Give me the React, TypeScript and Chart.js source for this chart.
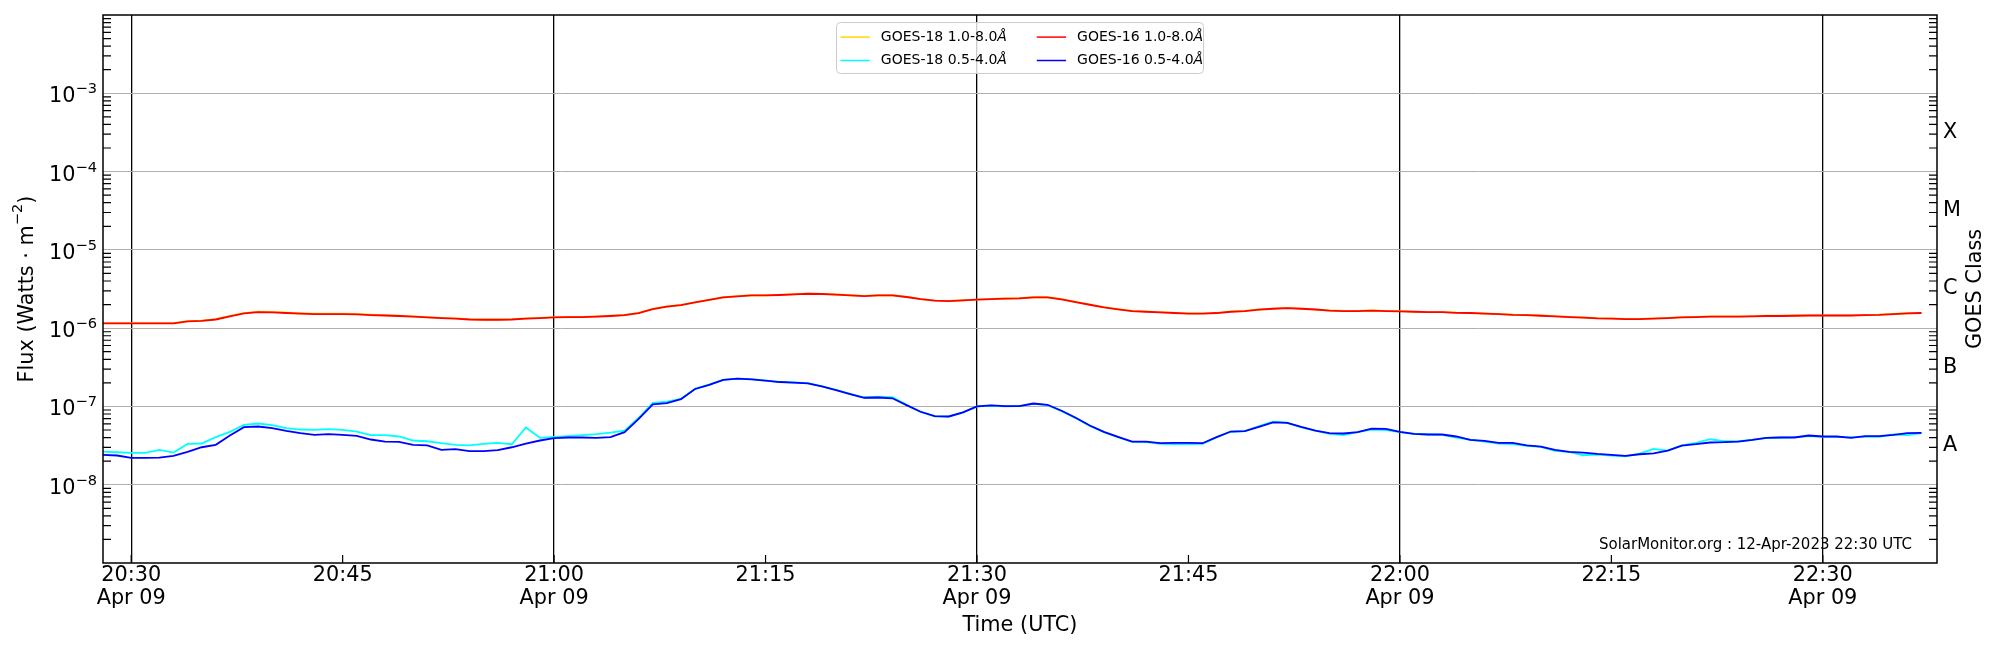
import { useEffect, useRef } from "react";
import Chart from "chart.js/auto";
import type { ChartConfiguration, Plugin } from "chart.js";

const FONT_FAMILY = "'DejaVu Sans', sans-serif";

// one-minute samples
const times = [
  "20:28", "20:29",
  "20:30", "20:31", "20:32", "20:33", "20:34", "20:35", "20:36", "20:37", "20:38", "20:39",
  "20:40", "20:41", "20:42", "20:43", "20:44", "20:45", "20:46", "20:47", "20:48", "20:49",
  "20:50", "20:51", "20:52", "20:53", "20:54", "20:55", "20:56", "20:57", "20:58", "20:59",
  "21:00", "21:01", "21:02", "21:03", "21:04", "21:05", "21:06", "21:07", "21:08", "21:09",
  "21:10", "21:11", "21:12", "21:13", "21:14", "21:15", "21:16", "21:17", "21:18", "21:19",
  "21:20", "21:21", "21:22", "21:23", "21:24", "21:25", "21:26", "21:27", "21:28", "21:29",
  "21:30", "21:31", "21:32", "21:33", "21:34", "21:35", "21:36", "21:37", "21:38", "21:39",
  "21:40", "21:41", "21:42", "21:43", "21:44", "21:45", "21:46", "21:47", "21:48", "21:49",
  "21:50", "21:51", "21:52", "21:53", "21:54", "21:55", "21:56", "21:57", "21:58", "21:59",
  "22:00", "22:01", "22:02", "22:03", "22:04", "22:05", "22:06", "22:07", "22:08", "22:09",
  "22:10", "22:11", "22:12", "22:13", "22:14", "22:15", "22:16", "22:17", "22:18", "22:19",
  "22:20", "22:21", "22:22", "22:23", "22:24", "22:25", "22:26", "22:27", "22:28", "22:29",
  "22:30", "22:31", "22:32", "22:33", "22:34", "22:35", "22:36", "22:37",
];

const goes18Long = [
  1.16e-6, 1.16e-6,
  1.16e-6, 1.16e-6, 1.16e-6, 1.16e-6, 1.23e-6, 1.25e-6, 1.30e-6, 1.43e-6, 1.56e-6, 1.62e-6,
  1.61e-6, 1.58e-6, 1.55e-6, 1.53e-6, 1.53e-6, 1.53e-6, 1.52e-6, 1.49e-6, 1.47e-6, 1.44e-6,
  1.41e-6, 1.38e-6, 1.35e-6, 1.33e-6, 1.30e-6, 1.29e-6, 1.29e-6, 1.30e-6, 1.33e-6, 1.35e-6,
  1.38e-6, 1.39e-6, 1.39e-6, 1.41e-6, 1.44e-6, 1.48e-6, 1.57e-6, 1.76e-6, 1.89e-6, 1.98e-6,
  2.14e-6, 2.30e-6, 2.48e-6, 2.56e-6, 2.63e-6, 2.63e-6, 2.66e-6, 2.71e-6, 2.76e-6, 2.74e-6,
  2.69e-6, 2.63e-6, 2.58e-6, 2.63e-6, 2.63e-6, 2.51e-6, 2.36e-6, 2.25e-6, 2.23e-6, 2.27e-6,
  2.32e-6, 2.36e-6, 2.39e-6, 2.41e-6, 2.48e-6, 2.48e-6, 2.34e-6, 2.16e-6, 2.00e-6, 1.85e-6,
  1.75e-6, 1.66e-6, 1.63e-6, 1.60e-6, 1.57e-6, 1.54e-6, 1.54e-6, 1.57e-6, 1.63e-6, 1.66e-6,
  1.73e-6, 1.78e-6, 1.81e-6, 1.78e-6, 1.74e-6, 1.68e-6, 1.66e-6, 1.66e-6, 1.68e-6, 1.66e-6,
  1.65e-6, 1.63e-6, 1.61e-6, 1.61e-6, 1.58e-6, 1.57e-6, 1.54e-6, 1.52e-6, 1.49e-6, 1.48e-6,
  1.45e-6, 1.42e-6, 1.39e-6, 1.37e-6, 1.34e-6, 1.33e-6, 1.31e-6, 1.31e-6, 1.33e-6, 1.35e-6,
  1.38e-6, 1.39e-6, 1.41e-6, 1.41e-6, 1.41e-6, 1.42e-6, 1.44e-6, 1.44e-6, 1.45e-6, 1.46e-6,
  1.46e-6, 1.46e-6, 1.46e-6, 1.48e-6, 1.49e-6, 1.52e-6, 1.55e-6, 1.57e-6,
];

const goes18Short = [
  2.65e-8, 2.60e-8,
  2.55e-8, 2.55e-8, 2.78e-8, 2.57e-8, 3.32e-8, 3.36e-8, 4.05e-8, 4.73e-8, 5.82e-8, 6.05e-8,
  5.76e-8, 5.27e-8, 5.07e-8, 5.02e-8, 5.12e-8, 5.02e-8, 4.78e-8, 4.29e-8, 4.29e-8, 4.13e-8,
  3.67e-8, 3.59e-8, 3.39e-8, 3.23e-8, 3.19e-8, 3.32e-8, 3.42e-8, 3.29e-8, 5.38e-8, 3.97e-8,
  4.09e-8, 4.17e-8, 4.29e-8, 4.42e-8, 4.64e-8, 4.92e-8, 7.16e-8, 1.11e-7, 1.15e-7, 1.25e-7,
  1.68e-7, 1.90e-7, 2.19e-7, 2.27e-7, 2.23e-7, 2.14e-7, 2.06e-7, 2.02e-7, 1.98e-7, 1.81e-7,
  1.63e-7, 1.45e-7, 1.30e-7, 1.33e-7, 1.31e-7, 1.05e-7, 8.50e-8, 7.45e-8, 7.40e-8, 8.35e-8,
  1.00e-7, 1.02e-7, 1.00e-7, 1.01e-7, 1.08e-7, 1.04e-7, 8.70e-8, 7.10e-8, 5.65e-8, 4.70e-8,
  4.05e-8, 3.52e-8, 3.50e-8, 3.33e-8, 3.30e-8, 3.30e-8, 3.33e-8, 4.05e-8, 4.75e-8, 4.85e-8,
  5.60e-8, 6.40e-8, 6.20e-8, 5.40e-8, 4.92e-8, 4.46e-8, 4.29e-8, 4.69e-8, 5.07e-8, 4.97e-8,
  4.69e-8, 4.46e-8, 4.38e-8, 4.33e-8, 4.01e-8, 3.74e-8, 3.56e-8, 3.36e-8, 3.29e-8, 3.13e-8,
  3.04e-8, 2.70e-8, 2.62e-8, 2.38e-8, 2.42e-8, 2.35e-8, 2.30e-8, 2.50e-8, 2.87e-8, 2.73e-8,
  3.19e-8, 3.42e-8, 3.81e-8, 3.59e-8, 3.59e-8, 3.74e-8, 3.97e-8, 4.01e-8, 4.05e-8, 4.17e-8,
  4.09e-8, 4.05e-8, 4.05e-8, 4.09e-8, 4.09e-8, 4.38e-8, 4.29e-8, 4.55e-8,
];

const goes16Long = [
  1.15e-6, 1.15e-6,
  1.15e-6, 1.15e-6, 1.15e-6, 1.15e-6, 1.22e-6, 1.24e-6, 1.29e-6, 1.41e-6, 1.54e-6, 1.60e-6,
  1.59e-6, 1.56e-6, 1.53e-6, 1.51e-6, 1.51e-6, 1.51e-6, 1.50e-6, 1.47e-6, 1.45e-6, 1.43e-6,
  1.40e-6, 1.37e-6, 1.34e-6, 1.32e-6, 1.29e-6, 1.28e-6, 1.28e-6, 1.29e-6, 1.32e-6, 1.34e-6,
  1.37e-6, 1.38e-6, 1.38e-6, 1.40e-6, 1.43e-6, 1.47e-6, 1.56e-6, 1.75e-6, 1.88e-6, 1.97e-6,
  2.13e-6, 2.29e-6, 2.47e-6, 2.55e-6, 2.62e-6, 2.62e-6, 2.65e-6, 2.70e-6, 2.75e-6, 2.73e-6,
  2.68e-6, 2.62e-6, 2.57e-6, 2.62e-6, 2.62e-6, 2.50e-6, 2.35e-6, 2.24e-6, 2.22e-6, 2.26e-6,
  2.31e-6, 2.35e-6, 2.38e-6, 2.40e-6, 2.47e-6, 2.47e-6, 2.33e-6, 2.15e-6, 1.99e-6, 1.84e-6,
  1.74e-6, 1.65e-6, 1.62e-6, 1.59e-6, 1.56e-6, 1.53e-6, 1.53e-6, 1.56e-6, 1.62e-6, 1.65e-6,
  1.72e-6, 1.77e-6, 1.80e-6, 1.77e-6, 1.73e-6, 1.67e-6, 1.65e-6, 1.65e-6, 1.67e-6, 1.65e-6,
  1.64e-6, 1.62e-6, 1.60e-6, 1.60e-6, 1.57e-6, 1.56e-6, 1.53e-6, 1.51e-6, 1.48e-6, 1.47e-6,
  1.44e-6, 1.41e-6, 1.38e-6, 1.36e-6, 1.33e-6, 1.32e-6, 1.30e-6, 1.30e-6, 1.32e-6, 1.34e-6,
  1.37e-6, 1.38e-6, 1.40e-6, 1.40e-6, 1.40e-6, 1.41e-6, 1.43e-6, 1.43e-6, 1.44e-6, 1.45e-6,
  1.45e-6, 1.45e-6, 1.45e-6, 1.47e-6, 1.48e-6, 1.51e-6, 1.54e-6, 1.56e-6,
];

const goes16Short = [
  2.40e-8, 2.36e-8,
  2.20e-8, 2.20e-8, 2.22e-8, 2.33e-8, 2.62e-8, 3.01e-8, 3.23e-8, 4.25e-8, 5.43e-8, 5.54e-8,
  5.27e-8, 4.87e-8, 4.55e-8, 4.33e-8, 4.42e-8, 4.33e-8, 4.21e-8, 3.78e-8, 3.56e-8, 3.52e-8,
  3.23e-8, 3.19e-8, 2.78e-8, 2.84e-8, 2.68e-8, 2.68e-8, 2.76e-8, 3.01e-8, 3.36e-8, 3.67e-8,
  3.93e-8, 4.01e-8, 4.01e-8, 3.97e-8, 4.05e-8, 4.69e-8, 6.95e-8, 1.06e-7, 1.10e-7, 1.24e-7,
  1.67e-7, 1.89e-7, 2.18e-7, 2.26e-7, 2.22e-7, 2.13e-7, 2.05e-7, 2.01e-7, 1.97e-7, 1.80e-7,
  1.62e-7, 1.44e-7, 1.29e-7, 1.30e-7, 1.27e-7, 1.04e-7, 8.55e-8, 7.52e-8, 7.44e-8, 8.38e-8,
  1.00e-7, 1.03e-7, 1.01e-7, 1.01e-7, 1.09e-7, 1.05e-7, 8.80e-8, 7.16e-8, 5.71e-8, 4.73e-8,
  4.09e-8, 3.56e-8, 3.56e-8, 3.39e-8, 3.42e-8, 3.42e-8, 3.39e-8, 4.05e-8, 4.78e-8, 4.83e-8,
  5.48e-8, 6.24e-8, 6.17e-8, 5.48e-8, 4.92e-8, 4.55e-8, 4.51e-8, 4.69e-8, 5.22e-8, 5.17e-8,
  4.73e-8, 4.46e-8, 4.38e-8, 4.38e-8, 4.13e-8, 3.74e-8, 3.63e-8, 3.42e-8, 3.42e-8, 3.19e-8,
  3.07e-8, 2.78e-8, 2.62e-8, 2.57e-8, 2.47e-8, 2.40e-8, 2.33e-8, 2.45e-8, 2.52e-8, 2.73e-8,
  3.16e-8, 3.29e-8, 3.46e-8, 3.49e-8, 3.56e-8, 3.74e-8, 3.97e-8, 4.01e-8, 4.01e-8, 4.25e-8,
  4.13e-8, 4.13e-8, 3.97e-8, 4.17e-8, 4.17e-8, 4.33e-8, 4.55e-8, 4.60e-8,
];

const seriesLabels = [
  "GOES-18 1.0-8.0Å",
  "GOES-18 0.5-4.0Å",
  "GOES-16 1.0-8.0Å",
  "GOES-16 0.5-4.0Å",
];
const seriesColors = ["#ffd700", "#00ffff", "#ff0000", "#0000ff"];

const xStart = "20:28";
const xEnd = "22:38";
const xTickTimes = ["20:30", "20:45", "21:00", "21:15", "21:30", "21:45", "22:00", "22:15", "22:30"];
const dateLabel = "Apr 09";

const fluxTicks = [1e-8, 1e-7, 1e-6, 1e-5, 1e-4, 1e-3];
const fluxTickBase = "10";
const fluxTickExponents = ["−8", "−7", "−6", "−5", "−4", "−3"];
const classTicks = [3.16e-8, 3.16e-7, 3.16e-6, 3.16e-5, 3.16e-4];
const classLabels = ["A", "B", "C", "M", "X"];

// axis titles: [text, superscript, text]
const fluxTitle = ["Flux (Watts · m", "−2", ")"];
const classTitle = "GOES Class";
const stamp = "SolarMonitor.org : 12-Apr-2023 22:30 UTC";

function toMinutes(t: string) {
  const [h, m] = t.split(":").map(Number);
  return h * 60 + m;
}

function fmtTime(v: number) {
  const h = Math.floor(v / 60);
  const m = Math.round(v - h * 60);
  return `${h}:${String(m).padStart(2, "0")}`;
}

const BIG = 20.8;
const SUP = 14.6;
const font = { family: FONT_FAMILY, size: BIG };

const decor: Plugin<"line"> = {
  id: "goesDecor",
  afterDraw(chart) {
    const { ctx, chartArea: a } = chart;
    const x = chart.scales.x;
    const y = chart.scales.y;
    ctx.save();

    // inward minor ticks (log) on both y sides, inward x ticks
    ctx.strokeStyle = "#000";
    ctx.lineWidth = 1.2;
    ctx.beginPath();
    for (let e = -9; e < -2; e++) {
      for (let k = 2; k < 10; k++) {
        const py = y.getPixelForValue(k * Math.pow(10, e));
        ctx.moveTo(a.left, py);
        ctx.lineTo(a.left + 8, py);
        ctx.moveTo(a.right, py);
        ctx.lineTo(a.right - 8, py);
      }
    }
    x.ticks.forEach((t) => {
      const px = x.getPixelForValue(t.value);
      ctx.moveTo(px, a.bottom);
      ctx.lineTo(px, a.bottom - 8);
    });
    ctx.stroke();

    ctx.lineWidth = 1.5;
    ctx.strokeRect(a.left, a.top, a.right - a.left, a.bottom - a.top);

    // flux tick labels: 10 with raised exponent
    ctx.fillStyle = "#000";
    ctx.textBaseline = "alphabetic";
    ctx.textAlign = "right";
    y.ticks.forEach((t, i) => {
      const py = y.getPixelForValue(t.value);
      const exp = fluxTickExponents[i];
      ctx.font = `${SUP}px ${FONT_FAMILY}`;
      const ew = ctx.measureText(exp).width;
      ctx.fillText(exp, a.left - 6, py);
      ctx.font = `${BIG}px ${FONT_FAMILY}`;
      ctx.fillText(fluxTickBase, a.left - 6 - ew, py + 9);
    });

    // GOES class letters on the right
    ctx.textAlign = "left";
    ctx.textBaseline = "middle";
    ctx.font = `${BIG}px ${FONT_FAMILY}`;
    classTicks.forEach((v, i) => {
      ctx.fillText(classLabels[i], a.right + 6, y.getPixelForValue(v));
    });

    // left title, reading upwards
    ctx.save();
    ctx.translate(33.3, (a.top + a.bottom) / 2);
    ctx.rotate(-Math.PI / 2);
    ctx.textAlign = "left";
    ctx.textBaseline = "alphabetic";
    const [t1, t2, t3] = fluxTitle;
    ctx.font = `${BIG}px ${FONT_FAMILY}`;
    const w1 = ctx.measureText(t1).width;
    const w3 = ctx.measureText(t3).width;
    ctx.font = `${SUP}px ${FONT_FAMILY}`;
    const w2 = ctx.measureText(t2).width;
    let tx = -(w1 + w2 + w3) / 2;
    ctx.font = `${BIG}px ${FONT_FAMILY}`;
    ctx.fillText(t1, tx, 0);
    tx += w1;
    ctx.font = `${SUP}px ${FONT_FAMILY}`;
    ctx.fillText(t2, tx, -11.5);
    tx += w2;
    ctx.font = `${BIG}px ${FONT_FAMILY}`;
    ctx.fillText(t3, tx, 0);
    ctx.restore();

    // legend, upper centre, two columns
    const lw = 367;
    const lh = 51;
    const lx = (a.left + a.right) / 2 - lw / 2;
    const ly = a.top + 7.5;
    ctx.beginPath();
    ctx.roundRect(lx, ly, lw, lh, 4);
    ctx.fillStyle = "rgba(255,255,255,0.8)";
    ctx.fill();
    ctx.strokeStyle = "#cccccc";
    ctx.lineWidth = 1;
    ctx.stroke();
    ctx.textBaseline = "middle";
    ctx.textAlign = "left";
    chart.data.datasets.forEach((ds, i) => {
      const col = Math.floor(i / 2);
      const row = i % 2;
      const bx = lx + 4 + col * 196.3;
      const by = ly + 14.6 + row * 23.4;
      ctx.strokeStyle = ds.borderColor as string;
      ctx.lineWidth = 1.5;
      ctx.beginPath();
      ctx.moveTo(bx, by);
      ctx.lineTo(bx + 29.3, by);
      ctx.stroke();
      const label = String(ds.label);
      const base = label.slice(0, -1);
      ctx.fillStyle = "#000";
      ctx.font = `14px ${FONT_FAMILY}`;
      ctx.fillText(base, bx + 40.3, by);
      const w = ctx.measureText(base).width;
      ctx.font = `italic 14px ${FONT_FAMILY}`;
      ctx.fillText(label.slice(-1), bx + 40.3 + w, by);
    });

    // stamp, lower right
    ctx.font = `15px ${FONT_FAMILY}`;
    ctx.textAlign = "right";
    ctx.textBaseline = "alphabetic";
    ctx.fillText(stamp, a.right - 25, a.bottom - 14);

    // right-hand axis title, reading upwards
    ctx.translate(a.right + 39, (a.top + a.bottom) / 2);
    ctx.rotate(-Math.PI / 2);
    ctx.font = `${BIG}px ${FONT_FAMILY}`;
    ctx.textAlign = "center";
    ctx.textBaseline = "middle";
    ctx.fillText(classTitle, 0, 0);
    ctx.restore();
  },
};

function makeSeries(values: number[]) {
  return times.map((t, i) => ({ x: toMinutes(t), y: values[i] }));
}

export default function App() {
  const canvasRef = useRef<HTMLCanvasElement | null>(null);

  useEffect(() => {
    if (!canvasRef.current) return;
    const values = [goes18Long, goes18Short, goes16Long, goes16Short];
    const order = [3, 2, 1, 0];

    const config: ChartConfiguration<"line"> = {
      type: "line",
      data: {
        datasets: values.map((v, i) => ({
          label: seriesLabels[i],
          data: makeSeries(v),
          borderColor: seriesColors[i],
          backgroundColor: seriesColors[i],
          borderWidth: 1.8,
          pointRadius: 0,
          tension: 0,
          order: order[i],
        })),
      },
      options: {
        animation: false,
        responsive: false,
        devicePixelRatio: 1,
        events: [],
        layout: { padding: { top: 15, left: 0, right: 63, bottom: 0 } },
        plugins: { legend: { display: false }, tooltip: { enabled: false } },
        scales: {
          x: {
            type: "linear",
            min: toMinutes(xStart),
            max: toMinutes(xEnd) + 0.1,
            afterBuildTicks: (scale) => {
              scale.ticks = xTickTimes.map((t) => ({ value: toMinutes(t) }));
            },
            afterFit: (scale) => {
              scale.height = 87;
            },
            ticks: {
              autoSkip: false,
              maxRotation: 0,
              padding: 1,
              color: "#000",
              font: { ...font, lineHeight: 1.12 },
              callback: (value) => {
                const v = Number(value);
                return v % 30 === 0 ? [fmtTime(v), dateLabel] : fmtTime(v);
              },
            },
            grid: {
              drawTicks: false,
              lineWidth: 1.3,
              color: (c) =>
                c.tick && c.tick.value % 30 === 0 ? "#000" : "rgba(0,0,0,0)",
            },
            border: { display: false },
            title: {
              display: true,
              text: "Time (UTC)",
              color: "#000",
              font,
              padding: { top: 0, bottom: 12 },
            },
          },
          y: {
            type: "logarithmic",
            position: "left",
            min: 1e-9,
            max: 1e-2,
            afterBuildTicks: (scale) => {
              scale.ticks = fluxTicks.map((v) => ({ value: v, major: true }));
            },
            afterFit: (scale) => {
              scale.width = 103;
            },
            ticks: { display: false, autoSkip: false },
            grid: { drawTicks: false, color: "#b0b0b0", lineWidth: 1 },
            border: { display: false },
          },
        },
      },
      plugins: [decor],
    };

    const chart = new Chart(canvasRef.current, config);
    return () => {
      chart.destroy();
    };
  }, []);

  return (
    <div
      style={{
        position: "absolute",
        left: 0,
        top: 0,
        width: 2000,
        height: 650,
        background: "#fff",
      }}
    >
      <canvas
        ref={canvasRef}
        width={2000}
        height={650}
        role="img"
        aria-label="GOES X-ray flux"
        style={{ display: "block" }}
      />
    </div>
  );
}
